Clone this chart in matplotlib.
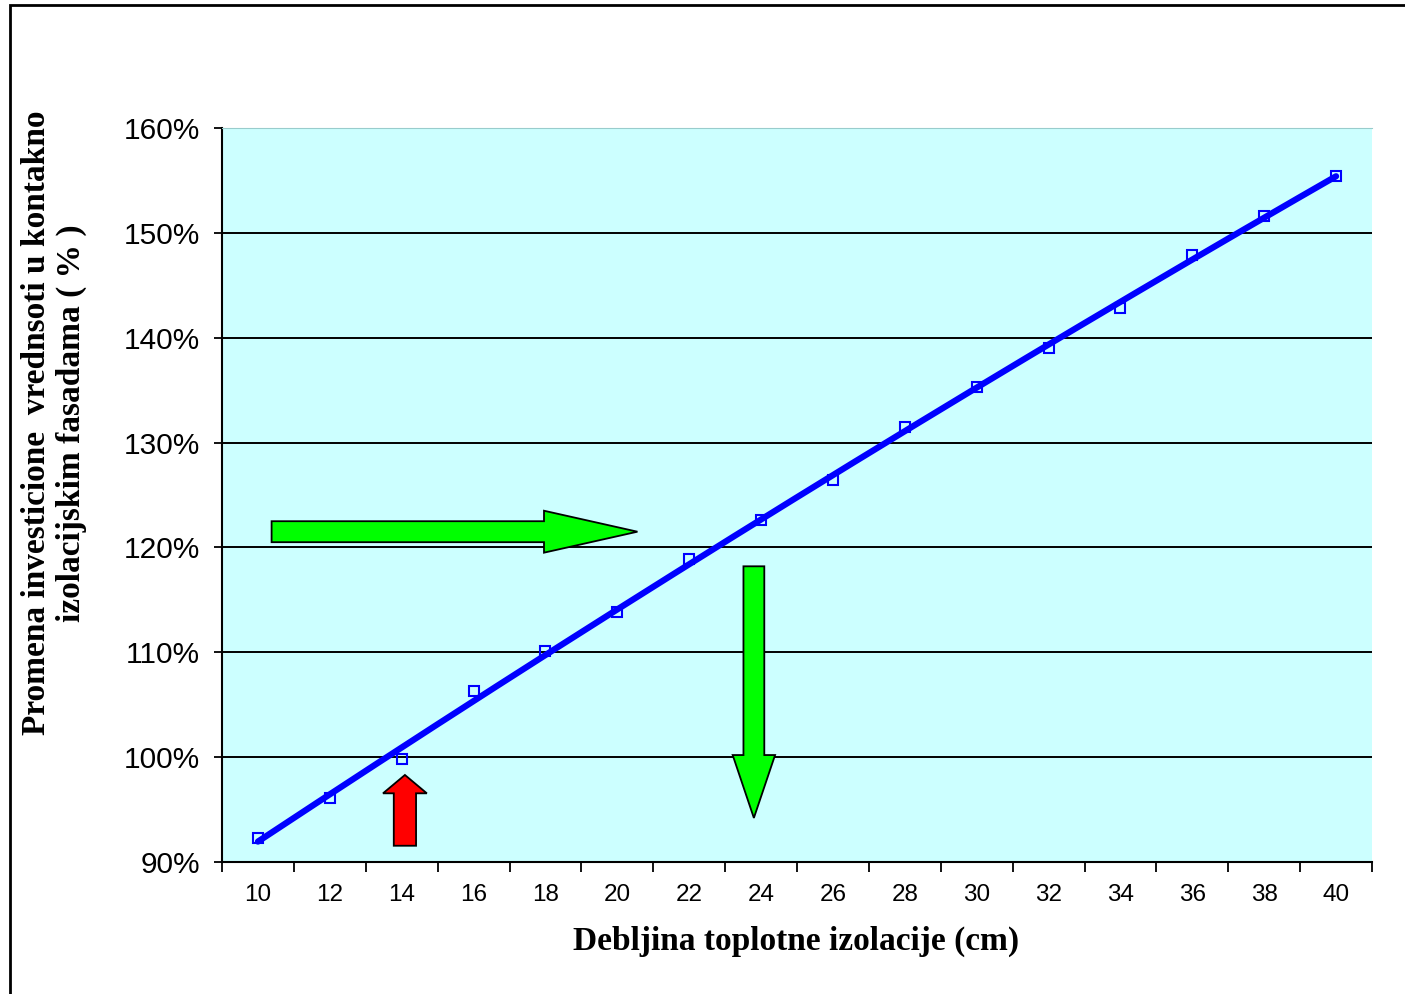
import numpy as np
import matplotlib
matplotlib.use("Agg")
import matplotlib.pyplot as plt
from matplotlib.patches import FancyArrow, Rectangle
from matplotlib.ticker import FixedLocator, NullFormatter

# Data
thickness = [10, 12, 14, 16, 18, 20, 22, 24, 26, 28, 30, 32, 34, 36, 38, 40]
change_pct = [92.3, 96.1, 99.85, 106.3, 110.1, 113.8, 118.9, 122.6,
              126.4, 131.5, 135.3, 139.0, 142.8, 147.9, 151.6, 155.4]
y_ticks = [90, 100, 110, 120, 130, 140, 150, 160]

x_label = "Debljina toplotne izolacije (cm)"
y_label = "Promena investicione  vrednsoti u kontakno\nizolacijskim fasadama ( % )"

pos = np.arange(len(thickness))

fig = plt.figure(figsize=(14.05, 9.94), dpi=100)
ax = fig.add_axes([222 / 1405, 1 - 862 / 994, 1150 / 1405, 734 / 994])
ax.set_facecolor("#CCFFFF")

# outer frame of the chart object
fig.patches.append(Rectangle((10 / 1405, -0.05), 1.1, 0.05 + 989 / 994,
                             transform=fig.transFigure, fill=False,
                             ec="black", lw=2, zorder=0))

# gridlines
for v in y_ticks[1:-1]:
    ax.axhline(v, color="black", lw=1.4, zorder=1)

# trend line (polynomial fit of the points) and markers
coef = np.polyfit(pos, change_pct, 2)
xs = np.linspace(pos[0], pos[-1], 200)
ax.plot(xs, np.polyval(coef, xs), color="#0000FF", lw=4.5, zorder=3,
        solid_capstyle="round")
ax.plot(pos, change_pct, ls="none", marker="s", ms=7, mfc="none",
        mec="#0000FF", mew=1.5, zorder=4)

# arrows
ax.add_patch(FancyArrow(0.19, 121.5, 5.09, 0, width=2.0, head_width=4.0,
                        head_length=1.3, length_includes_head=True,
                        fc="#00FF00", ec="black", lw=1.3, zorder=5))
ax.add_patch(FancyArrow(6.9, 118.2, 0, -24.0, width=0.29, head_width=0.59,
                        head_length=6.0, length_includes_head=True,
                        fc="#00FF00", ec="black", lw=1.3, zorder=5))
ax.add_patch(FancyArrow(2.045, 91.55, 0, 6.75, width=0.31, head_width=0.61,
                        head_length=1.75, length_includes_head=True,
                        fc="#FF0000", ec="black", lw=1.3, zorder=5))

ax.set_xlim(-0.5, len(thickness) - 0.5)
ax.set_ylim(90, 160)

ax.set_yticks(y_ticks)
ax.set_yticklabels([f"{v}%" for v in y_ticks], fontsize=21.5,
                   family="Liberation Sans")
ax.tick_params(axis="y", direction="out", length=6, width=1.3, pad=10)

ax.xaxis.set_major_locator(FixedLocator(np.arange(-0.5, len(thickness), 1)))
ax.xaxis.set_major_formatter(NullFormatter())
ax.xaxis.set_minor_locator(FixedLocator(pos))
ax.set_xticklabels([str(t) for t in thickness], minor=True, fontsize=17.5,
                   family="Liberation Sans")
ax.tick_params(axis="x", which="major", direction="out", length=7, width=1.3)
ax.tick_params(axis="x", which="minor", length=0, pad=16)

for s in ["left", "bottom"]:
    ax.spines[s].set_linewidth(1.5)
ax.spines["top"].set_color("#99CCCC")
ax.spines["right"].set_visible(False)

fig.text(796 / 1405, 1 - 941 / 994, x_label, ha="center", va="center",
         fontsize=24, fontweight="bold", family="Liberation Serif")
fig.text(54 / 1405, 1 - 423 / 994, y_label, ha="center", va="center",
         rotation=90, fontsize=24, fontweight="bold",
         family="Liberation Serif", linespacing=1.12, multialignment="center")

fig.savefig("out.png", dpi=100)
